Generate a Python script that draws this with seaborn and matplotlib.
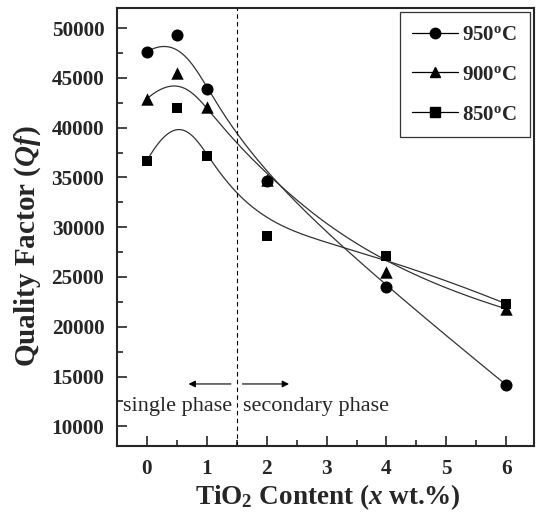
import numpy as np
import matplotlib
matplotlib.use("Agg")
import matplotlib.pyplot as plt
import seaborn as sns
from matplotlib.lines import Line2D

# TiO2 content (wt.%) and quality factor Qf for each sintering temperature
tio2 = [0, 0.5, 1, 2, 4, 6]
qf_950 = [47640, 49330, 43890, 34620, 23980, 14150]
qf_900 = [42900, 45470, 42040, 34700, 25490, 21800]
qf_850 = [36670, 41940, 37140, 29080, 27150, 22300]
labels = ["950$^\\mathrm{o}$C", "900$^\\mathrm{o}$C", "850$^\\mathrm{o}$C"]
markers = ["o", "^", "s"]
x_ticks = [0, 1, 2, 3, 4, 5, 6]
y_ticks = [10000, 15000, 20000, 25000, 30000, 35000, 40000, 45000, 50000]


def bspline(xs, ys, n=300, k=3):
    """Clamped cubic B-spline using the data points as control points."""
    pts = np.column_stack([xs, ys]).astype(float)
    m = len(pts)
    knots = np.concatenate([np.zeros(k), np.linspace(0, 1, m - k + 1), np.ones(k)])
    t = np.linspace(0, 1, n)
    basis = np.zeros((len(knots) - 1, n))
    for i in range(len(knots) - 1):
        basis[i] = (knots[i] <= t) & (t < knots[i + 1])
    basis[m - 1, -1] = 1.0
    for p in range(1, k + 1):
        nxt = np.zeros((len(knots) - 1 - p, n))
        for i in range(len(knots) - 1 - p):
            d1 = knots[i + p] - knots[i]
            d2 = knots[i + p + 1] - knots[i + 1]
            a = (t - knots[i]) / d1 * basis[i] if d1 > 0 else 0.0
            b = (knots[i + p + 1] - t) / d2 * basis[i + 1] if d2 > 0 else 0.0
            nxt[i] = a + b
        basis = nxt
    curve = basis.T @ pts
    return curve[:, 0], curve[:, 1]


sns.set_style("ticks")
plt.rcParams["font.family"] = ["Liberation Serif", "DejaVu Serif"]
plt.rcParams["font.weight"] = "bold"
plt.rcParams["mathtext.fontset"] = "custom"
plt.rcParams["mathtext.rm"] = "Liberation Serif:bold"
plt.rcParams["mathtext.it"] = "Liberation Serif:italic:bold"
plt.rcParams["mathtext.bf"] = "Liberation Serif:bold"

fig = plt.figure(figsize=(5.36, 5.17), dpi=100)
ax = fig.add_axes([0.218, 0.137, 0.778, 0.847])

handles = []
for ys, lab, mk in zip([qf_950, qf_900, qf_850], labels, markers):
    cx, cy = bspline(tio2, ys)
    ax.plot(cx, cy, color="#333333", linewidth=0.9)
    ms = 75 if mk == "o" else (80 if mk == "^" else 55)
    sns.scatterplot(x=tio2, y=ys, marker=mk, color="black", s=ms,
                    edgecolor="black", linewidth=0, ax=ax, zorder=3)
    handles.append(Line2D([], [], color="black", linewidth=0.9, marker=mk,
                          markersize=7.5 if mk != "s" else 6.5, label=lab))

ax.axvline(1.5, color="black", linestyle=(0, (4, 3)), linewidth=0.8)
ax.annotate("", xy=(0.65, 14250), xytext=(1.45, 14250),
            arrowprops=dict(arrowstyle="-|>", color="black", lw=0.8,
                            mutation_scale=10))
ax.annotate("", xy=(2.42, 14250), xytext=(1.55, 14250),
            arrowprops=dict(arrowstyle="-|>", color="black", lw=0.8,
                            mutation_scale=10))
ax.text(1.43, 12000, "single phase", ha="right", va="center",
        fontsize=16, fontweight="normal")
ax.text(1.6, 12000, "secondary phase", ha="left", va="center",
        fontsize=16, fontweight="normal")

ax.set_xlim(-0.5, 6.46)
ax.set_ylim(8000, 52000)
ax.set_xticks(x_ticks)
ax.set_yticks(y_ticks)
ax.set_xticks(np.arange(-0.5, 6.5, 0.5), minor=True)
ax.set_yticks(np.arange(10000, 52000, 2500), minor=True)
ax.tick_params(axis="both", which="major", direction="in", length=7,
               width=1.2, labelsize=15.3, pad=9)
ax.tick_params(axis="both", which="minor", direction="in", length=4, width=1.2)
for lbl in ax.get_xticklabels() + ax.get_yticklabels():
    lbl.set_fontweight("bold")
for sp in ax.spines.values():
    sp.set_visible(True)
    sp.set_linewidth(1.5)

ax.set_xlabel("TiO$_{2}$ Content ($x$ wt.%)", fontsize=19.5, fontweight="bold")
ax.set_ylabel("Quality Factor ($Qf$)", fontsize=21, fontweight="bold")
ax.xaxis.set_label_coords(0.507, -0.083)
ax.yaxis.set_label_coords(-0.176, 0.457)

leg = ax.legend(handles=handles, loc="upper right", fontsize=15,
                frameon=True, fancybox=False, edgecolor="black",
                handlelength=2.2, handletextpad=0.2, borderpad=0.6,
                labelspacing=0.95, borderaxespad=0.2)
leg.get_frame().set_linewidth(0.9)
for txt in leg.get_texts():
    txt.set_fontweight("bold")

fig.savefig("out.png", dpi=100)
